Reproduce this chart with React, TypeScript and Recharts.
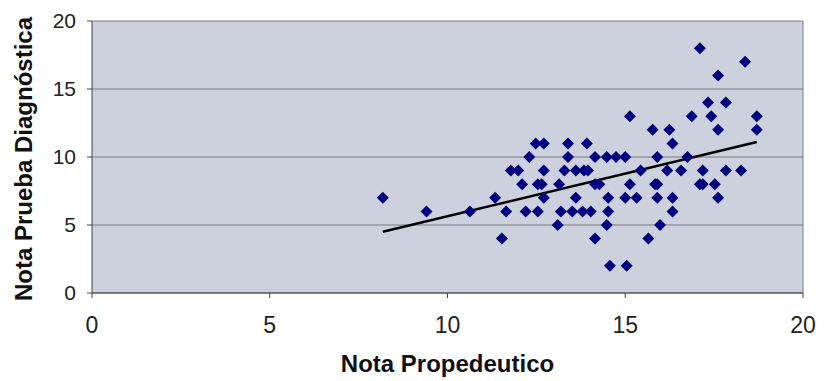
import {
  ScatterChart,
  Scatter,
  XAxis,
  YAxis,
  CartesianGrid,
  ReferenceLine,
  Label,
} from 'recharts'

// Nota Propedeutico (x) vs Nota Prueba Diagnóstica (y)
const propedeutico = [
  8.18, 9.41, 10.63, 11.34, 11.65, 11.53, 11.78, 11.99, 12.1, 12.2,
  12.3, 12.48, 12.71, 12.54, 12.65, 12.54, 12.71, 12.71, 13.14, 13.19,
  13.1, 13.29, 13.39, 13.39, 13.51, 13.61, 13.61, 13.92, 14.15, 14.48,
  14.74, 15.0, 13.84, 13.95, 14.15, 14.27, 14.52, 15.0, 15.32, 13.8,
  14.03, 14.52, 14.48, 14.15, 14.57, 15.04, 15.13, 15.13, 15.43, 15.77,
  15.9, 15.84, 15.9, 15.9, 15.65, 15.98, 16.24, 16.33, 16.18, 16.33,
  16.33, 16.57, 16.75, 16.87, 17.1, 17.18, 17.1, 17.18, 17.33, 17.42,
  17.52, 17.61, 17.61, 17.61, 17.83, 17.83, 18.26, 18.37, 18.7, 18.7,
]
const diagnostica = [
  7, 6, 6, 7, 6, 4, 9, 9, 8, 6,
  10, 11, 11, 8, 8, 6, 9, 7, 8, 6,
  5, 9, 11, 10, 6, 9, 7, 11, 10, 10,
  10, 10, 9, 9, 8, 8, 7, 7, 7, 6,
  6, 6, 5, 4, 2, 2, 13, 8, 9, 12,
  10, 8, 8, 7, 4, 5, 12, 11, 9, 7,
  6, 9, 10, 13, 18, 9, 8, 8, 14, 13,
  8, 16, 12, 7, 14, 9, 9, 17, 13, 12,
]

// linear trend line end points
const trendX = [8.18, 18.7]
const trendY = [4.5, 11.1]

const axisTicks = [0, 5, 10, 15, 20]

const points = propedeutico.map((x, i) => ({ x, y: diagnostica[i] }))

// eslint-disable-next-line @typescript-eslint/no-explicit-any
function Diamond(props: any) {
  const { cx, cy } = props
  const r = 6
  return (
    <polygon
      points={`${cx},${cy - r} ${cx + r},${cy} ${cx},${cy + r} ${cx - r},${cy}`}
      fill="#000080"
    />
  )
}

// eslint-disable-next-line @typescript-eslint/no-explicit-any
function YTitle(props: any) {
  const { viewBox } = props
  const cx = 23
  const cy = viewBox.y + viewBox.height / 2 + 2
  return (
    <text
      x={cx}
      y={cy}
      transform={`rotate(-90, ${cx}, ${cy})`}
      textAnchor="middle"
      dominantBaseline="central"
      fontFamily="Liberation Sans, Arial, sans-serif"
      fontWeight="bold"
      fontSize={24}
      fill="#111"
    >
      Nota Prueba Diagnóstica
    </text>
  )
}

// eslint-disable-next-line @typescript-eslint/no-explicit-any
function XTitle(props: any) {
  const { viewBox } = props
  const cx = viewBox.x + viewBox.width / 2
  return (
    <text
      x={cx}
      y={372}
      textAnchor="middle"
      fontFamily="Liberation Sans, Arial, sans-serif"
      fontWeight="bold"
      fontSize={24}
      fill="#111"
    >
      Nota Propedeutico
    </text>
  )
}

export default function App() {
  return (
    <div style={{ position: 'absolute', left: 0, top: 0, background: '#fff' }}>
      <ScatterChart
        width={825}
        height={381}
        margin={{ top: 21, right: 22, bottom: 0, left: 0 }}
        style={{ fontFamily: 'Liberation Sans, Arial, sans-serif' }}
      >
        <CartesianGrid
          vertical={false}
          stroke="#7c7c7c"
          fill="#cdd0dd"
          fillOpacity={1}
        />
        <XAxis
          type="number"
          dataKey="x"
          domain={[0, 20]}
          ticks={axisTicks}
          height={88}
          stroke="#444"
          tickSize={5}
          tickMargin={19}
          tick={{ fill: '#222', fontSize: 23 }}
        >
          <Label content={XTitle} />
        </XAxis>
        <YAxis
          type="number"
          dataKey="y"
          domain={[0, 20]}
          ticks={axisTicks}
          width={92}
          stroke="#444"
          tickSize={5}
          tickMargin={11}
          tick={{ fill: '#222', fontSize: 21 }}
        >
          <Label content={YTitle} />
        </YAxis>
        <ReferenceLine x={20} stroke="#7c7c7c" />
        <Scatter
          data={points}
          shape={Diamond}
          isAnimationActive={false}
        />
        <ReferenceLine
          segment={[
            { x: trendX[0], y: trendY[0] },
            { x: trendX[1], y: trendY[1] },
          ]}
          stroke="#000"
          strokeWidth={2.5}
        />
      </ScatterChart>
    </div>
  )
}
